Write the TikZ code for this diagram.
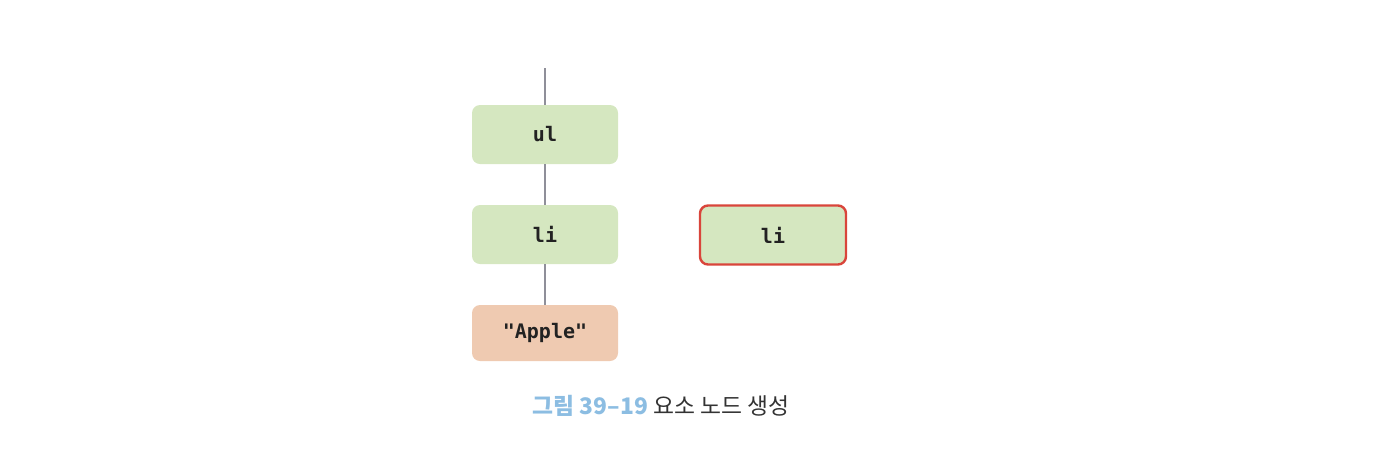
\documentclass[tikz,border=0pt]{standalone}
\usepackage{fontspec}
\setmonofont{DejaVu Sans Mono}
\newfontfamily\krfont{Noto Sans CJK KR}
\definecolor{boxgreen}{HTML}{D5E7C0}
\definecolor{boxorange}{HTML}{EFCAB1}
\definecolor{edgered}{HTML}{D9453B}
\definecolor{linegray}{HTML}{8F8F99}
\definecolor{txtdark}{HTML}{222222}
\definecolor{capblue}{HTML}{8CBDE2}
\definecolor{capgray}{HTML}{333333}
\tikzset{
  dombox/.style={rounded corners=8*0.5pt, minimum width=146*0.5pt, minimum height=59*0.5pt,
    inner sep=0pt, font=\ttfamily\bfseries\fontsize{10}{12}\selectfont, text=txtdark},
  elemnode/.style={dombox, fill=boxgreen},
  textnode/.style={dombox, fill=boxorange, minimum height=56*0.5pt},
  newnode/.style={dombox, fill=boxgreen, draw=edgered, line width=1.2pt},
  treeline/.style={draw=linegray, line width=0.6pt}
}
\begin{document}
\begin{tikzpicture}[x=0.5pt,y=-0.5pt]
\useasboundingbox (0,0) rectangle (1374,457);
\coordinate (top) at (545,68);
\node[elemnode] (ul) at (545,134.5) {ul};
\node[elemnode] (li) at (545,234.5) {li};
\node[textnode] (apple) at (545,333) {"Apple"};
\node[newnode] (newli) at (773,235) {li};
\draw[treeline] (top) -- (ul.north);
\draw[treeline] (ul.south) -- (li.north);
\draw[treeline] (li.south) -- (apple.north);
\node[font=\krfont\fontsize{11.4}{13}\selectfont, inner sep=0pt] (caption) at (661,406)
  {\textcolor{capblue}{\bfseries 그림 39–19} \textcolor{capgray}{요소 노드 생성}};
\end{tikzpicture}
\end{document}
